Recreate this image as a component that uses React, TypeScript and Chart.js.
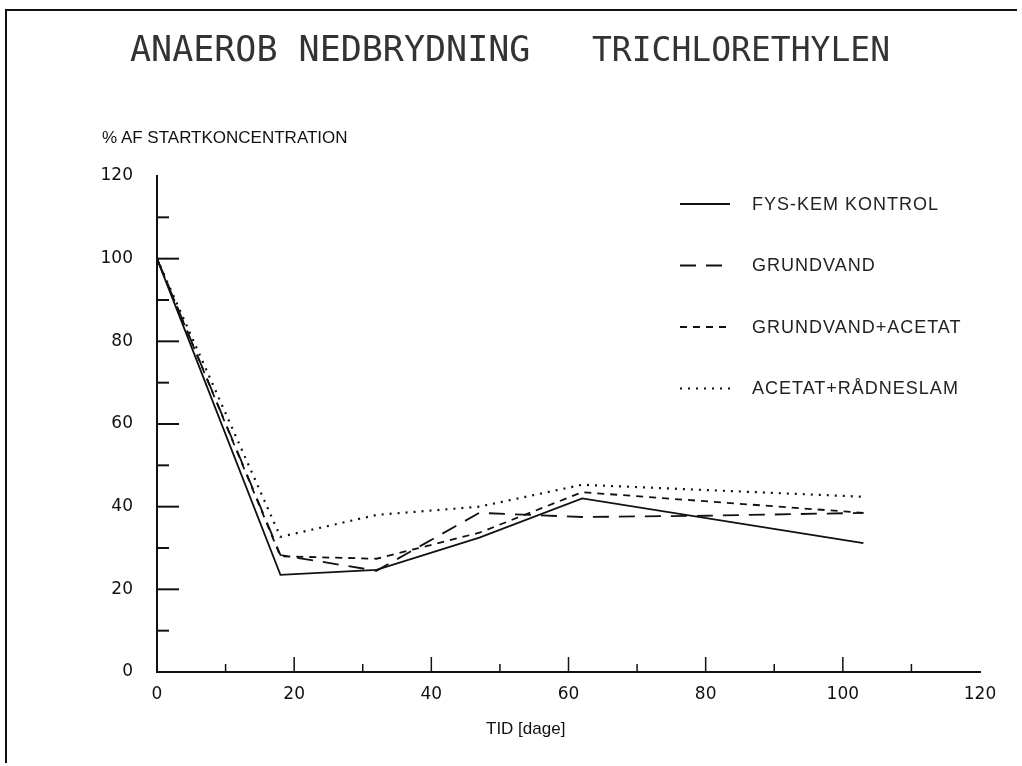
import React, { useEffect, useRef } from "react";
import { Chart, registerables } from "chart.js";

Chart.register(...registerables);

// ---- data ----
const TITLE_PARTS = ["ANAEROB NEDBRYDNING", "TRICHLORETHYLEN"];
const Y_TITLE = "% AF STARTKONCENTRATION";
const X_TITLE = "TID [dage]";

const SERIES_LABELS = ["FYS-KEM KONTROL", "GRUNDVAND", "GRUNDVAND+ACETAT", "ACETAT+RÅDNESLAM"];

const KONTROL_DAYS = [0, 18, 32, 47, 62, 103];
const KONTROL_VALUES = [100, 23.5, 24.7, 32.5, 42, 31.2];

const GRUNDVAND_DAYS = [0, 18, 32, 47, 62, 80, 103];
const GRUNDVAND_VALUES = [100, 28.3, 24.5, 38.5, 37.5, 37.8, 38.5];

const ACETAT_DAYS = [0, 18, 32, 47, 62, 103];
const ACETAT_VALUES = [100, 28, 27.4, 33.7, 43.5, 38.5];

const SLAM_DAYS = [0, 18, 32, 47, 62, 103];
const SLAM_VALUES = [100, 32.7, 38, 40, 45.3, 42.4];

const X_MAJOR_TICKS = [20, 40, 60, 80, 100];
const X_MINOR_TICKS = [10, 30, 50, 70, 90, 110];
const Y_MAJOR_TICKS = [20, 40, 60, 80, 100];
const Y_MINOR_TICKS = [10, 30, 50, 70, 90, 110];

const DASHES = [[], [16, 10], [7, 6], [2, 6]];

const INK = "#111";

const toPoints = (xs: number[], ys: number[]) => xs.map((x, i) => ({ x, y: ys[i] }));

const innerTicks = {
  id: "innerTicks",
  afterDraw(chart: any) {
    const { ctx, chartArea, scales } = chart;
    const xs = scales.x;
    const ys = scales.y;
    ctx.save();
    ctx.strokeStyle = INK;
    ctx.lineWidth = 2;
    const seg = (x1: number, y1: number, x2: number, y2: number) => {
      ctx.beginPath();
      ctx.moveTo(x1, y1);
      ctx.lineTo(x2, y2);
      ctx.stroke();
    };
    Y_MAJOR_TICKS.forEach((v) => {
      const p = ys.getPixelForValue(v);
      seg(chartArea.left, p, chartArea.left + 22, p);
    });
    Y_MINOR_TICKS.forEach((v) => {
      const p = ys.getPixelForValue(v);
      seg(chartArea.left, p, chartArea.left + 12, p);
    });
    ctx.lineWidth = 1.5;
    X_MAJOR_TICKS.forEach((v) => {
      const p = xs.getPixelForValue(v);
      seg(p, chartArea.bottom, p, chartArea.bottom - 15);
    });
    X_MINOR_TICKS.forEach((v) => {
      const p = xs.getPixelForValue(v);
      seg(p, chartArea.bottom, p, chartArea.bottom - 8);
    });
    ctx.restore();
  },
};

const sideLegend = {
  id: "sideLegend",
  afterDraw(chart: any) {
    const { ctx, chartArea } = chart;
    const x0 = chartArea.left + 523;
    const lineLen = 50;
    const textX = chartArea.left + 595;
    const top = chartArea.top + 28;
    const step = 61.5;
    ctx.save();
    chart.data.datasets.forEach((ds: any, i: number) => {
      const y = top + i * step;
      ctx.strokeStyle = INK;
      ctx.lineWidth = 1.8;
      ctx.setLineDash(ds.borderDash || []);
      ctx.beginPath();
      ctx.moveTo(x0, y);
      ctx.lineTo(x0 + lineLen, y);
      ctx.stroke();
      ctx.setLineDash([]);
      ctx.fillStyle = "#222";
      ctx.font = "18px 'Liberation Sans', Arial, sans-serif";
      (ctx as any).letterSpacing = "1px";
      ctx.textBaseline = "middle";
      ctx.textAlign = "left";
      ctx.fillText(ds.label, textX, y + 1);
      (ctx as any).letterSpacing = "0px";
    });
    ctx.restore();
  },
};

export default function App() {
  const ref = useRef<HTMLCanvasElement | null>(null);

  useEffect(() => {
    if (!ref.current) return;
    const seriesData = [
      toPoints(KONTROL_DAYS, KONTROL_VALUES),
      toPoints(GRUNDVAND_DAYS, GRUNDVAND_VALUES),
      toPoints(ACETAT_DAYS, ACETAT_VALUES),
      toPoints(SLAM_DAYS, SLAM_VALUES),
    ];
    const tickFont = { family: "'DejaVu Sans', sans-serif", size: 17 };
    const chart = new Chart(ref.current, {
      type: "line",
      data: {
        datasets: seriesData.map((d, i) => ({
          label: SERIES_LABELS[i],
          data: d,
          borderColor: INK,
          borderWidth: i === 3 ? 2.2 : 1.8,
          borderDash: DASHES[i],
          pointRadius: 0,
          tension: 0,
          fill: false,
        })),
      },
      options: {
        animation: false,
        responsive: false,
        maintainAspectRatio: false,
        devicePixelRatio: 1,
        layout: { padding: { left: 0, right: 42, top: 176, bottom: 0 } },
        plugins: { legend: { display: false }, tooltip: { enabled: false }, title: { display: false } },
        scales: {
          x: {
            type: "linear",
            min: 0,
            max: 120,
            grid: { display: false },
            border: { display: true, color: INK, width: 2 },
            ticks: { stepSize: 20, color: INK, font: tickFont, padding: 4 },
            afterFit: (s: any) => {
              s.height = 94;
            },
          },
          y: {
            type: "linear",
            min: 0,
            max: 120,
            grid: { display: false },
            border: { display: true, color: INK, width: 2 },
            ticks: { stepSize: 20, color: INK, font: tickFont, padding: 16 },
            afterFit: (s: any) => {
              s.width = 157;
            },
          },
        },
      },
      plugins: [innerTicks, sideLegend],
    });
    return () => chart.destroy();
  }, []);

  const titleStyle = {
    position: "absolute" as const,
    top: 32,
    fontFamily: "'DejaVu Sans Mono', monospace",
    lineHeight: 1,
    color: "#333",
    whiteSpace: "pre" as const,
  };

  return (
    <div style={{ position: "absolute", left: 0, top: 0, width: 1022, height: 766, background: "#fff", overflow: "hidden" }}>
      <canvas ref={ref} width={1022} height={766} style={{ position: "absolute", left: 0, top: 0 }} />
      <div style={{ position: "absolute", left: 5, top: 9, width: 1012, height: 2, background: INK }} />
      <div style={{ position: "absolute", left: 5, top: 9, width: 2, height: 754, background: INK }} />
      <div style={{ ...titleStyle, left: 130, fontSize: 35 }}>{TITLE_PARTS[0]}</div>
      <div style={{ ...titleStyle, left: 592, fontSize: 33, top: 33 }}>{TITLE_PARTS[1]}</div>
      <div
        style={{
          position: "absolute",
          left: 102,
          top: 129,
          fontFamily: "'Liberation Sans', Arial, sans-serif",
          fontSize: 17,
          lineHeight: 1,
          color: INK,
          whiteSpace: "pre",
        }}
      >
        {Y_TITLE}
      </div>
      <div
        style={{
          position: "absolute",
          left: 486,
          top: 720,
          fontFamily: "'Liberation Sans', Arial, sans-serif",
          fontSize: 17,
          lineHeight: 1,
          color: INK,
          whiteSpace: "pre",
        }}
      >
        {X_TITLE}
      </div>
    </div>
  );
}
